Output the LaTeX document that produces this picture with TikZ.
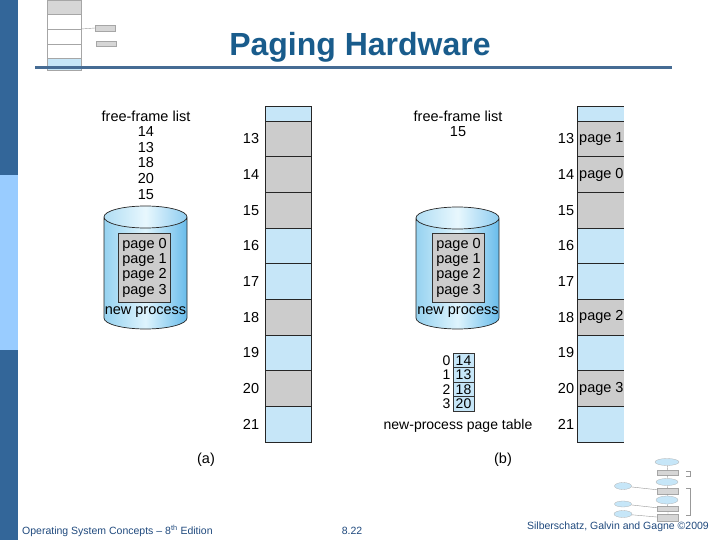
\documentclass[tikz,border=0pt]{standalone}
\usepackage{fontspec}
\setmainfont{Liberation Sans}
\usetikzlibrary{positioning,shapes.geometric}
\definecolor{barblue}{RGB}{51,102,153}
\definecolor{barlight}{RGB}{153,204,255}
\definecolor{titleblue}{RGB}{25,92,140}
\definecolor{ruleblue}{RGB}{70,108,148}
\definecolor{footblue}{RGB}{31,73,125}
\definecolor{usedgray}{RGB}{204,204,204}
\definecolor{freeblue}{RGB}{198,230,248}
\definecolor{cylleft}{RGB}{150,210,240}
\definecolor{cylright}{RGB}{105,188,235}
\definecolor{cyllight}{RGB}{222,244,253}
\tikzset{
  txt/.style={font=\fontsize{14.5}{15.6}\selectfont, inner sep=0pt},
  usedframe/.style={rectangle, draw=black!85, fill=usedgray, line width=0.7pt,
    minimum width=46pt, minimum height=35.67pt, inner sep=0pt, outer sep=0pt},
  freeframe/.style={usedframe, fill=freeblue},
  ptcell/.style={rectangle, draw=black!80, fill=freeblue, line width=0.7pt,
    minimum width=21pt, minimum height=14.5pt, inner sep=0pt, outer sep=0pt,
    font=\fontsize{14}{15}\selectfont},
  pagebox/.style={rectangle, draw=black!80, fill=usedgray, line width=0.9pt,
    minimum width=52pt, minimum height=69pt, align=left, inner sep=0pt,
    font=\fontsize{14.5}{15.3}\selectfont},
  foot/.style={font=\fontsize{10.5}{12}\selectfont, text=footblue, inner sep=0pt},
  thumbused/.style={rectangle, draw=black!35, fill=usedgray!80, line width=0.3pt,
    inner sep=0pt, outer sep=0pt},
  thumbfree/.style={thumbused, fill=freeblue},
  thumbwhite/.style={thumbused, fill=white},
  thumbell/.style={ellipse, draw=black!30, fill=freeblue, line width=0.3pt, inner sep=0pt},
  thumbline/.style={draw=black!40, line width=0.4pt}
}
\begin{document}
\begin{tikzpicture}[x=1pt,y=-1pt]
\useasboundingbox (0,0) rectangle (720,540);
% slide background
\fill[barblue] (0,0) rectangle (18,175);
\fill[barlight] (0,175) rectangle (18,350);
\fill[barblue] (0,350) rectangle (18,540);

% small memory picture, top left
\node[thumbused, minimum width=34pt, minimum height=14pt] (tm1) at (64,7) {};
\node[thumbwhite, minimum width=34pt, minimum height=15pt] (tm2) at (64,21.5) {};
\node[thumbwhite, minimum width=34pt, minimum height=15pt] (tm3) at (64,36.5) {};
\node[thumbwhite, minimum width=34pt, minimum height=14pt] (tm4) at (64,51) {};
\node[thumbfree, minimum width=34pt, minimum height=12pt] (tm5) at (64,64) {};
\node[thumbused, minimum width=20pt, minimum height=6pt] (tb1) at (105,28) {};
\node[thumbused, minimum width=20pt, minimum height=5pt] (tb2) at (106,43.5) {};
\draw[thumbline] (tm3.north east) -- (tb1.west);

\node[font=\bfseries\fontsize{32}{36}\selectfont, text=titleblue, anchor=base, inner sep=0pt] (title) at (360,56) {Paging Hardware};
\coordinate (rule start) at (35,68);
\coordinate (rule end) at (672,68);
\draw[ruleblue, line width=3pt] (rule start) -- (rule end);

% (a) before allocation
\node[txt, align=center] (ffl a) at (146,155) {free-frame list\\14\\13\\18\\20\\15};
\shade[left color=cylleft, right color=cylright, middle color=cyllight]
  (104,217) -- (104,318) arc[start angle=180, end angle=0, x radius=41.5, y radius=11]
  -- (187,217) arc[start angle=0, end angle=180, x radius=41.5, y radius=11] -- cycle;
\shade[left color=cylleft!75!white, right color=cylright!75!white, middle color=cyllight!70!white]
  (145.5,217) ellipse[x radius=41.5, y radius=11];
\draw[black!85, line width=0.7pt]
  (104,217) -- (104,318) arc[start angle=180, end angle=0, x radius=41.5, y radius=11]
  -- (187,217) (145.5,217) ellipse[x radius=41.5, y radius=11];
\node[pagebox] (pages a) at (144.5,267.5) {page 0\\page 1\\page 2\\page 3};
\node[txt] (np a) at (145.5,312) {new process};

\node[freeframe, minimum height=15pt] (top a) at (288,113.5) {};
\node[usedframe] (a13) at (288,138.8) {};
\node[usedframe] (a14) at (288,174.5) {};
\node[usedframe] (a15) at (288,210.2) {};
\node[freeframe] (a16) at (288,245.8) {};
\node[freeframe] (a17) at (288,281.5) {};
\node[usedframe] (a18) at (288,317.2) {};
\node[freeframe] (a19) at (288,352.8) {};
\node[usedframe] (a20) at (288,388.5) {};
\node[freeframe] (a21) at (288,424.2) {};
\node[txt] (na13) at (251,138.8) {13};
\node[txt] (na14) at (251,174.5) {14};
\node[txt] (na15) at (251,210.2) {15};
\node[txt] (na16) at (251,245.8) {16};
\node[txt] (na17) at (251,281.5) {17};
\node[txt] (na18) at (251,317.2) {18};
\node[txt] (na19) at (251,352.8) {19};
\node[txt] (na20) at (251,388.5) {20};
\node[txt] (na21) at (251,424.2) {21};
\node[txt] (cap a) at (206,460) {(a)};

% (b) after allocation
\node[txt, align=center] (ffl b) at (458,124) {free-frame list\\15};
\shade[left color=cylleft, right color=cylright, middle color=cyllight]
  (416,218) -- (416,318) arc[start angle=180, end angle=0, x radius=41.5, y radius=11]
  -- (499,218) arc[start angle=0, end angle=180, x radius=41.5, y radius=11] -- cycle;
\shade[left color=cylleft!75!white, right color=cylright!75!white, middle color=cyllight!70!white]
  (457.5,218) ellipse[x radius=41.5, y radius=11];
\draw[black!85, line width=0.7pt]
  (416,218) -- (416,318) arc[start angle=180, end angle=0, x radius=41.5, y radius=11]
  -- (499,218) (457.5,218) ellipse[x radius=41.5, y radius=11];
\node[pagebox] (pages b) at (458.5,267.5) {page 0\\page 1\\page 2\\page 3};
\node[txt] (np b) at (458,312) {new process};

\node[ptcell] (pt0) at (463.5,360.25) {14};
\node[ptcell] (pt1) at (463.5,374.75) {13};
\node[ptcell] (pt2) at (463.5,389.25) {18};
\node[ptcell] (pt3) at (463.5,403.75) {20};
\node[txt, font=\fontsize{14}{15}\selectfont] (ix0) at (446.5,360.25) {0};
\node[txt, font=\fontsize{14}{15}\selectfont] (ix1) at (446.5,374.75) {1};
\node[txt, font=\fontsize{14}{15}\selectfont] (ix2) at (446.5,389.25) {2};
\node[txt, font=\fontsize{14}{15}\selectfont] (ix3) at (446.5,403.75) {3};
\node[txt, font=\fontsize{14}{15}\selectfont] (pt label) at (458,426) {new-process page table};

\begin{scope}
\clip (570,100) rectangle (623.8,450);
\node[freeframe, minimum width=47pt, minimum height=15pt] (top b) at (600.5,113.5) {};
\node[usedframe, minimum width=47pt] (b13) at (600.5,138.8) {};
\node[usedframe, minimum width=47pt] (b14) at (600.5,174.5) {};
\node[usedframe, minimum width=47pt] (b15) at (600.5,210.2) {};
\node[freeframe, minimum width=47pt] (b16) at (600.5,245.8) {};
\node[freeframe, minimum width=47pt] (b17) at (600.5,281.5) {};
\node[usedframe, minimum width=47pt] (b18) at (600.5,317.2) {};
\node[freeframe, minimum width=47pt] (b19) at (600.5,352.8) {};
\node[usedframe, minimum width=47pt] (b20) at (600.5,388.5) {};
\node[freeframe, minimum width=47pt] (b21) at (600.5,424.2) {};
\node[txt, anchor=west] (pg1) at (579,138.8) {page 1};
\node[txt, anchor=west] (pg0) at (579,174.5) {page 0};
\node[txt, anchor=west] (pg2) at (579,317.2) {page 2};
\node[txt, anchor=west] (pg3) at (579,388.5) {page 3};
\end{scope}
\node[txt] (nb13) at (566,138.8) {13};
\node[txt] (nb14) at (566,174.5) {14};
\node[txt] (nb15) at (566,210.2) {15};
\node[txt] (nb16) at (566,245.8) {16};
\node[txt] (nb17) at (566,281.5) {17};
\node[txt] (nb18) at (566,317.2) {18};
\node[txt] (nb19) at (566,352.8) {19};
\node[txt] (nb20) at (566,388.5) {20};
\node[txt] (nb21) at (566,424.2) {21};
\node[txt] (cap b) at (503,460) {(b)};

% small flow chart, bottom right
\node[thumbell, minimum width=24pt, minimum height=7pt] (fe1) at (667,462) {};
\node[thumbused, minimum width=21pt, minimum height=5pt] (fr1) at (668,473) {};
\node[thumbell, minimum width=22pt, minimum height=7pt] (fe2) at (667,482) {};
\node[thumbused, minimum width=21pt, minimum height=6pt] (fr2) at (668,491) {};
\node[thumbell, minimum width=22pt, minimum height=8pt] (fe3) at (667,500) {};
\node[thumbused, minimum width=21pt, minimum height=5pt] (fr3) at (668,509) {};
\node[thumbused, minimum width=21pt, minimum height=7pt] (fr4) at (668,518) {};
\node[thumbell, minimum width=17pt, minimum height=7pt] (fs1) at (623,486) {};
\node[thumbell, minimum width=17pt, minimum height=6pt] (fs2) at (623,504) {};
\node[thumbell, minimum width=18pt, minimum height=7pt] (fs3) at (623,514) {};
\draw[thumbline] (fe1) -- (fr1) -- (fe2) -- (fr2) -- (fe3) -- (fr3) -- (fr4);
\draw[thumbline] (fs1) -- (fr2);
\draw[thumbline] (fs2) -- (fr3);
\draw[thumbline] (fs3) -- (fr4);
\draw[thumbline] (686,471) -| (690,476) -- (686,476);
\draw[thumbline] (686,488) -| (690,515) -- (686,515);

% footer
\node[foot, anchor=west] (foot left) at (22,531) {Operating System Concepts -- 8\textsuperscript{th} Edition};
\node[foot] (foot mid) at (352,531) {8.22};
\node[foot, anchor=east] (foot right) at (709,527) {Silberschatz, Galvin and Gagne \textcopyright 2009};
\end{tikzpicture}
\end{document}
